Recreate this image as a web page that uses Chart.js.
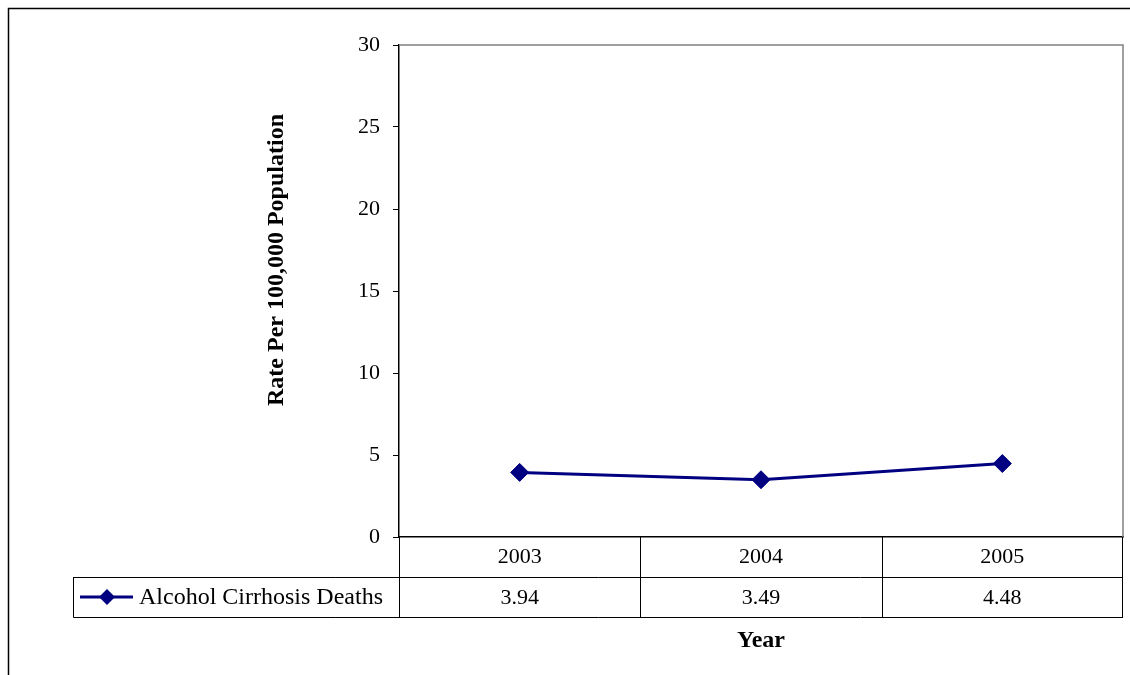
<!DOCTYPE html>
<html>
<head>
<meta charset="utf-8">
<script src="https://cdn.jsdelivr.net/npm/chart.js@4.4.1/dist/chart.umd.min.js"></script>
<style>
html,body{margin:0;padding:0;background:#fff;}
#wrap{width:1130px;height:675px;position:relative;}
</style>
</head>
<body>
<div id="wrap"><canvas id="c" width="1130" height="675"></canvas></div>
<script>
const categories = ['2003', '2004', '2005'];
const seriesName = 'Alcohol Cirrhosis Deaths';
const seriesValues = [3.94, 3.49, 4.48];
const valueLabels = ['3.94', '3.49', '4.48'];
const yTicks = [0, 5, 10, 15, 20, 25, 30];
const yTitle = 'Rate Per 100,000 Population';
const xTitle = 'Year';

const NAVY = '#000080';
const FONT = '"Liberation Serif", "Times New Roman", serif';
const FS_NUM = 22;
const FS_TXT = 24;

const tablePlugin = {
  id: 'tablePlugin',
  afterDraw(chart) {
    const ctx = chart.ctx;
    const a = chart.chartArea;
    const xs = chart.scales.x;
    const n = categories.length;
    const half = (xs.getPixelForValue(1) - xs.getPixelForValue(0)) / 2;
    const rowH = 40;
    const r1 = a.bottom + rowH, r2 = a.bottom + 2 * rowH;
    const legL = 73;
    ctx.save();
    // outer frame
    ctx.strokeStyle = '#000';
    ctx.lineWidth = 1.5;
    ctx.beginPath();
    ctx.moveTo(8.5, 675); ctx.lineTo(8.5, 8.5); ctx.lineTo(1130, 8.5);
    ctx.stroke();
    // plot area top/right gray
    ctx.strokeStyle = '#808080';
    ctx.lineWidth = 1.5;
    ctx.beginPath();
    ctx.moveTo(a.left, a.top); ctx.lineTo(a.right, a.top); ctx.lineTo(a.right, a.bottom);
    ctx.stroke();
    // table lines
    ctx.strokeStyle = '#000';
    ctx.lineWidth = 1;
    ctx.beginPath();
    for (let i = 0; i <= n; i++) {
      const x = i < n ? Math.round(xs.getPixelForValue(i) - half) + 0.5 : Math.round(xs.getPixelForValue(n - 1) + half) - 0.5;
      ctx.moveTo(x, a.bottom); ctx.lineTo(x, r2);
    }
    ctx.moveTo(legL + 0.5, r1 + 0.5); ctx.lineTo(a.right, r1 + 0.5);
    ctx.moveTo(legL + 0.5, r2 + 0.5); ctx.lineTo(a.right, r2 + 0.5);
    ctx.moveTo(legL + 0.5, r1); ctx.lineTo(legL + 0.5, r2 + 0.5);
    ctx.stroke();
    // legend key
    const ky = (r1 + r2) / 2;
    ctx.strokeStyle = NAVY;
    ctx.lineWidth = 3;
    ctx.beginPath(); ctx.moveTo(80, ky); ctx.lineTo(133, ky); ctx.stroke();
    ctx.fillStyle = NAVY;
    ctx.beginPath();
    ctx.moveTo(107, ky - 8); ctx.lineTo(115, ky); ctx.lineTo(107, ky + 8); ctx.lineTo(99, ky);
    ctx.closePath(); ctx.fill();
    // texts
    ctx.fillStyle = '#000';
    ctx.textBaseline = 'middle';
    ctx.textAlign = 'left';
    ctx.font = FS_TXT + 'px ' + FONT;
    ctx.fillText(seriesName, 139, ky + 1);
    ctx.textAlign = 'center';
    ctx.font = FS_NUM + 'px ' + FONT;
    for (let i = 0; i < n; i++) {
      ctx.fillText(valueLabels[i], xs.getPixelForValue(i), ky + 1);
    }
    ctx.font = 'bold ' + FS_TXT + 'px ' + FONT;
    ctx.fillText(xTitle, (a.left + a.right) / 2, 641);
    ctx.translate(277, 260);
    ctx.rotate(-Math.PI / 2);
    ctx.fillText(yTitle, 0, 0);
    ctx.restore();
  }
};

new Chart(document.getElementById('c'), {
  type: 'line',
  data: {
    labels: categories,
    datasets: [{
      label: seriesName,
      data: seriesValues,
      borderColor: NAVY,
      backgroundColor: NAVY,
      borderWidth: 3,
      pointStyle: 'rectRot',
      pointRadius: 9,
      pointHoverRadius: 9,
      pointBorderWidth: 1,
      pointBorderColor: NAVY,
      pointBackgroundColor: NAVY,
      tension: 0
    }]
  },
  options: {
    responsive: false,
    animation: false,
    events: [],
    layout: { autoPadding: false, padding: { left: 0, top: 45, right: 7, bottom: 98 } },
    plugins: { legend: { display: false }, tooltip: { enabled: false } },
    scales: {
      x: {
        type: 'category',
        offset: true,
        grid: { display: false, drawTicks: false, offset: true },
        border: { display: true, color: '#000', width: 1.5 },
        ticks: { color: '#000', font: { family: FONT, size: FS_NUM }, padding: 7, maxRotation: 0 },
        afterFit(s) { s.height = 40; s.paddingLeft = 0; s.paddingRight = 0; }
      },
      y: {
        min: 0, max: 30,
        afterBuildTicks(s) { s.ticks = yTicks.map(v => ({ value: v })); },
        grid: { drawOnChartArea: false, drawTicks: true, tickLength: 6, color: '#000', lineWidth: 1 },
        border: { display: true, color: '#000', width: 1.5 },
        ticks: { color: '#000', font: { family: FONT, size: FS_NUM }, padding: 13 },
        afterFit(s) { s.width = 399; s.paddingTop = 0; s.paddingBottom = 0; }
      }
    }
  },
  plugins: [tablePlugin]
});
</script>
</body>
</html>
